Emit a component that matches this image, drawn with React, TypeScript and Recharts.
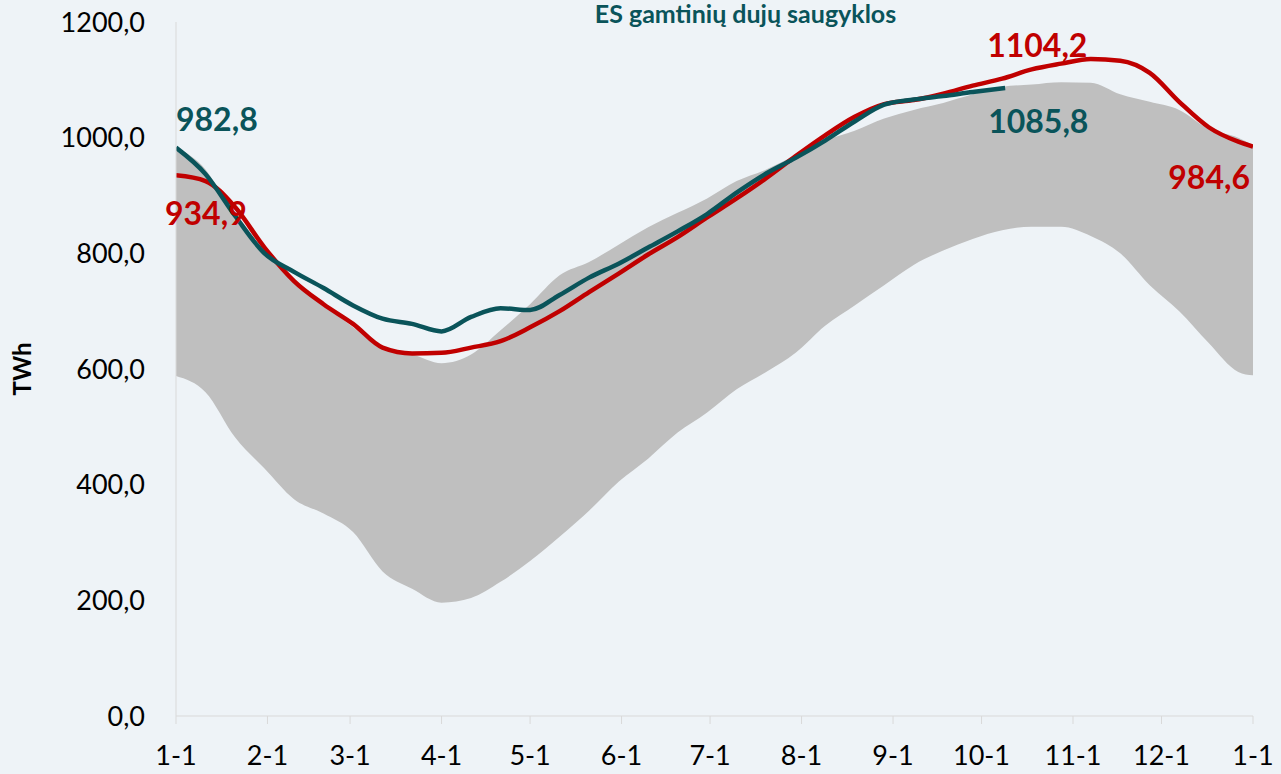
import { ComposedChart, Area, Line, XAxis, YAxis, ReferenceDot } from "recharts";

// day of year (0 = 1-1)
const days = [0, 10, 20, 30, 40, 50, 60, 70, 80, 90, 100, 110, 120, 130, 140, 150, 160, 170, 180, 190, 200, 210, 220, 230, 240, 250, 260, 270, 280, 290, 300, 310, 320, 330, 340, 350, 360, 365];

// range of previous years (min / max)
const bandMin = [588, 560, 482, 428, 375, 350, 318, 250, 220, 196, 204, 232, 268, 310, 355, 405, 445, 490, 525, 565, 595, 628, 675, 710, 745, 780, 805, 825, 840, 846, 846, 830, 800, 745, 700, 645, 595, 589];
const bandMax = [983, 945, 860, 800, 755, 712, 672, 635, 625, 610, 625, 667, 712, 762, 785, 815, 845, 870, 895, 925, 945, 970, 995, 1012, 1033, 1048, 1060, 1075, 1088, 1092, 1096, 1095, 1075, 1062, 1048, 1015, 1000, 987];

// previous year
const prevYear = [934.9, 925, 880, 810, 752, 712, 678, 637, 627, 628, 637, 648, 672, 700, 733, 765, 798, 828, 862, 895, 930, 968, 1004, 1036, 1058, 1065, 1076, 1090, 1102, 1118, 1128, 1136, 1133, 1112, 1062, 1018, 993, 984.6];

// current year (up to latest date)
const curDays = [0, 10, 20, 30, 40, 50, 60, 70, 80, 90, 100, 110, 120, 130, 140, 150, 160, 170, 180, 190, 200, 210, 220, 230, 240, 250, 260, 270, 281];
const curYear = [982.8, 937, 865, 800, 768, 740, 710, 687, 678, 665, 690, 705, 702, 728, 758, 782, 810, 838, 868, 905, 938, 965, 995, 1028, 1057, 1066, 1072, 1079, 1085.8];

const monthTicks = [0, 31, 59, 90, 120, 151, 181, 212, 243, 273, 304, 334, 365];
const monthLabels = ["1-1", "2-1", "3-1", "4-1", "5-1", "6-1", "7-1", "8-1", "9-1", "10-1", "11-1", "12-1", "1-1"];
const yTicks = [0, 200, 400, 600, 800, 1000, 1200];

const RED = "#c00000";
const TEAL = "#0a545a";
const FONT = "Lato, sans-serif";

const bandData = days.map((d, i) => ({ day: d, band: [bandMin[i], bandMax[i]], prev: prevYear[i] }));
const curData = curDays.map((d, i) => ({ day: d, cur: curYear[i] }));

const fmt = (v: number) => v.toFixed(1).replace(".", ",");

const Note = (props: any) => {
  const { viewBox, value, fill, dx, dy, anchor } = props;
  return (
    <text x={viewBox.x + dx} y={viewBox.y + dy} fill={fill} fontSize={32} fontWeight={700} fontFamily={FONT} textAnchor={anchor}>
      {value}
    </text>
  );
};

export default function App() {
  return (
    <div style={{ position: "absolute", left: 0, top: 0, width: 1281, height: 774, background: "#eef3f7" }}>
      <div style={{ position: "absolute", left: 0, width: 1281, top: 0, lineHeight: "26px", textAlign: "center", paddingLeft: 210, boxSizing: "border-box", fontFamily: FONT, fontWeight: 700, fontSize: 25, color: TEAL }}>
        ES gamtinių dujų saugyklos
      </div>
      <ComposedChart width={1281} height={774} data={bandData} margin={{ top: 22, right: 28, bottom: 0, left: 0 }}>
        <XAxis
          dataKey="day"
          type="number"
          domain={[0, 365]}
          ticks={monthTicks}
          tickFormatter={(v: number) => monthLabels[monthTicks.indexOf(v)]}
          interval={0}
          height={58}
          tickSize={8}
          tickMargin={22}
          stroke="#d9d9d9"
          tick={{ fill: "#000", fontSize: 27, fontFamily: FONT }}
          allowDataOverflow
        />
        <YAxis
          domain={[0, 1200]}
          ticks={yTicks}
          tickFormatter={fmt}
          width={176}
          tickSize={0}
          tickMargin={31}
          axisLine={{ stroke: "#d9d9d9" }}
          tick={{ fill: "#000", fontSize: 27, fontFamily: FONT }}
          label={{ value: "TWh", angle: -90, position: "insideLeft", offset: 22, style: { fill: "#000", fontSize: 24, fontWeight: 700, fontFamily: FONT, textAnchor: "middle" } }}
        />
        <Area dataKey="band" type="monotone" stroke="none" fill="#bfbfbf" fillOpacity={1} isAnimationActive={false} />
        <Line dataKey="prev" type="monotone" stroke={RED} strokeWidth={4.5} dot={false} isAnimationActive={false} />
        <Line data={curData} dataKey="cur" type="monotone" stroke={TEAL} strokeWidth={4.5} dot={false} isAnimationActive={false} />
        <ReferenceDot x={0} y={982.8} r={0} label={<Note value="982,8" fill={TEAL} dx={0} dy={-17} anchor="start" />} />
        <ReferenceDot x={0} y={934.9} r={0} label={<Note value="934,9" fill={RED} dx={-11} dy={50} anchor="start" />} />
        <ReferenceDot x={281} y={1104.2} r={0} label={<Note value="1104,2" fill={RED} dx={-18} dy={-20} anchor="start" />} />
        <ReferenceDot x={281} y={1085.8} r={0} label={<Note value="1085,8" fill={TEAL} dx={-17} dy={45} anchor="start" />} />
        <ReferenceDot x={365} y={984.6} r={0} label={<Note value="984,6" fill={RED} dx={-3} dy={42} anchor="end" />} />
      </ComposedChart>
    </div>
  );
}
